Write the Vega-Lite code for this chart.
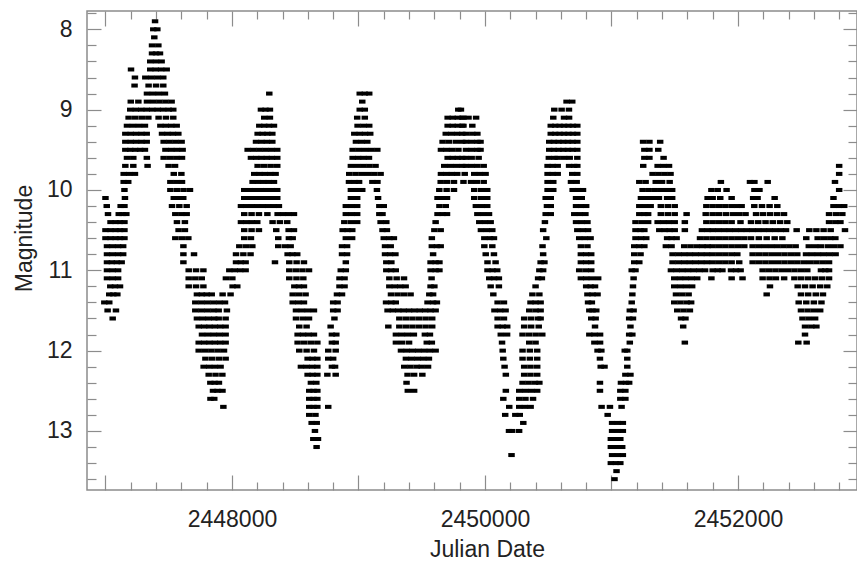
{
"$schema":"https://vega.github.io/schema/vega-lite/v6.json",
"width":770,"height":479,
"autosize":{"type":"none"},
"padding":{"left":87,"top":11,"right":0,"bottom":71},
"background":"white",
"config":{"view":{"stroke":"#8c8c8c","strokeWidth":1.5},"font":"Liberation Sans",
"axis":{"domain":false,"grid":false,"tickColor":"#8c8c8c","tickWidth":1.2,"labelFont":"Liberation Sans","labelFontSize":23,"labelColor":"#222","titleFont":"Liberation Sans","titleFontSize":23,"titleFontWeight":"normal","titleColor":"#222"}},
"data":{"values":[
{"j":2447000,"m":10.1},{"j":2447010,"m":10.2},{"j":2447120,"m":10.2},{"j":2447150,"m":10.2},
{"j":2447020,"m":10.3},{"j":2447105,"m":10.3},{"j":2447135,"m":10.3},{"j":2447165,"m":10.3},
{"j":2447040,"m":10.4},{"j":2447080,"m":10.4},{"j":2447115,"m":10.4},{"j":2447150,"m":10.4},
{"j":2447000,"m":10.5},{"j":2447040,"m":10.5},{"j":2447080,"m":10.5},{"j":2447115,"m":10.5},{"j":2447150,"m":10.5},
{"j":2447000,"m":10.6},{"j":2447040,"m":10.6},{"j":2447080,"m":10.6},{"j":2447115,"m":10.6},{"j":2447150,"m":10.6},
{"j":2447012,"m":10.7},{"j":2447055,"m":10.7},{"j":2447100,"m":10.7},{"j":2447140,"m":10.7},
{"j":2447012,"m":10.8},{"j":2447055,"m":10.8},{"j":2447100,"m":10.8},{"j":2447140,"m":10.8},
{"j":2447012,"m":10.9},{"j":2447050,"m":10.9},{"j":2447090,"m":10.9},{"j":2447128,"m":10.9},
{"j":2447012,"m":11.0},{"j":2447057,"m":11.0},{"j":2447100,"m":11.0},
{"j":2447012,"m":11.1},{"j":2447057,"m":11.1},{"j":2447100,"m":11.1},
{"j":2447038,"m":11.2},{"j":2447075,"m":11.2},{"j":2447115,"m":11.2},
{"j":2447030,"m":11.3},{"j":2447062,"m":11.3},{"j":2447094,"m":11.3},
{"j":2446991,"m":11.4},{"j":2447030,"m":11.4},{"j":2447017,"m":11.5},{"j":2447083,"m":11.5},{"j":2447057,"m":11.6},
{"j":2447154,"m":10.1},{"j":2447150,"m":10.0},{"j":2447144,"m":9.9},{"j":2447180,"m":9.9},
{"j":2447144,"m":9.8},{"j":2447188,"m":9.8},{"j":2447233,"m":9.8},
{"j":2447157,"m":9.7},{"j":2447220,"m":9.7},{"j":2447333,"m":9.7},
{"j":2447170,"m":9.6},{"j":2447220,"m":9.6},{"j":2447327,"m":9.6},
{"j":2447157,"m":9.5},{"j":2447196,"m":9.5},{"j":2447235,"m":9.5},{"j":2447274,"m":9.5},{"j":2447312,"m":9.5},
{"j":2447157,"m":9.4},{"j":2447200,"m":9.4},{"j":2447242,"m":9.4},{"j":2447285,"m":9.4},{"j":2447326,"m":9.4},
{"j":2447157,"m":9.3},{"j":2447200,"m":9.3},{"j":2447242,"m":9.3},{"j":2447285,"m":9.3},{"j":2447326,"m":9.3},
{"j":2447170,"m":9.2},{"j":2447217,"m":9.2},{"j":2447265,"m":9.2},{"j":2447312,"m":9.2},
{"j":2447183,"m":9.1},{"j":2447235,"m":9.1},{"j":2447287,"m":9.1},{"j":2447339,"m":9.1},{"j":2447420,"m":9.1},{"j":2447478,"m":9.1},{"j":2447536,"m":9.1},
{"j":2447196,"m":9.0},{"j":2447240,"m":9.0},{"j":2447283,"m":9.0},{"j":2447326,"m":9.0},{"j":2447370,"m":9.0},{"j":2447413,"m":9.0},{"j":2447456,"m":9.0},{"j":2447500,"m":9.0},{"j":2447536,"m":9.0},
{"j":2447200,"m":8.9},{"j":2447260,"m":8.9},{"j":2447328,"m":8.9},{"j":2447377,"m":8.9},{"j":2447426,"m":8.9},{"j":2447475,"m":8.9},{"j":2447523,"m":8.9},
{"j":2447328,"m":8.8},{"j":2447375,"m":8.8},{"j":2447422,"m":8.8},{"j":2447470,"m":8.8},
{"j":2447230,"m":8.7},{"j":2447341,"m":8.7},{"j":2447400,"m":8.7},{"j":2447457,"m":8.7},
{"j":2447233,"m":8.6},{"j":2447315,"m":8.6},{"j":2447362,"m":8.6},{"j":2447410,"m":8.6},{"j":2447457,"m":8.6},
{"j":2447202,"m":8.5},{"j":2447354,"m":8.5},{"j":2447397,"m":8.5},{"j":2447440,"m":8.5},{"j":2447484,"m":8.5},
{"j":2447354,"m":8.4},{"j":2447400,"m":8.4},{"j":2447444,"m":8.4},
{"j":2447368,"m":8.3},{"j":2447400,"m":8.3},{"j":2447431,"m":8.3},
{"j":2447368,"m":8.2},{"j":2447418,"m":8.2},{"j":2447386,"m":8.1},{"j":2447378,"m":8.0},{"j":2447410,"m":8.0},{"j":2447392,"m":7.9},
{"j":2447434,"m":9.2},{"j":2447477,"m":9.2},{"j":2447520,"m":9.2},{"j":2447563,"m":9.2},
{"j":2447447,"m":9.3},{"j":2447490,"m":9.3},{"j":2447533,"m":9.3},{"j":2447576,"m":9.3},
{"j":2447460,"m":9.4},{"j":2447507,"m":9.4},{"j":2447555,"m":9.4},{"j":2447602,"m":9.4},
{"j":2447474,"m":9.5},{"j":2447520,"m":9.5},{"j":2447565,"m":9.5},{"j":2447610,"m":9.5},
{"j":2447460,"m":9.6},{"j":2447510,"m":9.6},{"j":2447560,"m":9.6},{"j":2447605,"m":9.6},
{"j":2447499,"m":9.7},{"j":2447550,"m":9.7},{"j":2447540,"m":9.8},{"j":2447600,"m":9.8},
{"j":2447513,"m":9.9},{"j":2447560,"m":9.9},{"j":2447605,"m":9.9},
{"j":2447513,"m":10.0},{"j":2447565,"m":10.0},{"j":2447617,"m":10.0},{"j":2447668,"m":10.0},
{"j":2447540,"m":10.1},{"j":2447585,"m":10.1},{"j":2447615,"m":10.1},
{"j":2447526,"m":10.2},{"j":2447584,"m":10.2},{"j":2447642,"m":10.2},
{"j":2447552,"m":10.3},{"j":2447600,"m":10.3},{"j":2447642,"m":10.3},
{"j":2447565,"m":10.4},{"j":2447628,"m":10.4},{"j":2447578,"m":10.5},{"j":2447628,"m":10.5},
{"j":2447552,"m":10.6},{"j":2447603,"m":10.6},{"j":2447655,"m":10.6},
{"j":2447616,"m":10.7},{"j":2447616,"m":10.8},{"j":2447700,"m":10.8},{"j":2447616,"m":10.9},
{"j":2447658,"m":11.0},{"j":2447716,"m":11.0},{"j":2447774,"m":11.0},
{"j":2447658,"m":11.1},{"j":2447710,"m":11.1},{"j":2447761,"m":11.1},
{"j":2447658,"m":11.2},{"j":2447716,"m":11.2},{"j":2447774,"m":11.2},
{"j":2447723,"m":11.3},{"j":2447762,"m":11.3},{"j":2447800,"m":11.3},{"j":2447840,"m":11.3},
{"j":2447710,"m":11.4},{"j":2447758,"m":11.4},{"j":2447805,"m":11.4},{"j":2447853,"m":11.4},{"j":2447900,"m":11.4},{"j":2447945,"m":11.4},
{"j":2447710,"m":11.5},{"j":2447758,"m":11.5},{"j":2447805,"m":11.5},{"j":2447853,"m":11.5},{"j":2447895,"m":11.5},{"j":2447960,"m":11.5},
{"j":2447723,"m":11.6},{"j":2447770,"m":11.6},{"j":2447815,"m":11.6},{"j":2447860,"m":11.6},{"j":2447895,"m":11.6},{"j":2447950,"m":11.6},
{"j":2447737,"m":11.7},{"j":2447780,"m":11.7},{"j":2447822,"m":11.7},{"j":2447865,"m":11.7},{"j":2447907,"m":11.7},{"j":2447950,"m":11.7},
{"j":2447763,"m":11.8},{"j":2447810,"m":11.8},{"j":2447857,"m":11.8},{"j":2447903,"m":11.8},{"j":2447950,"m":11.8},
{"j":2447737,"m":11.9},{"j":2447780,"m":11.9},{"j":2447822,"m":11.9},{"j":2447865,"m":11.9},{"j":2447907,"m":11.9},{"j":2447950,"m":11.9},
{"j":2447737,"m":12.0},{"j":2447787,"m":12.0},{"j":2447837,"m":12.0},{"j":2447887,"m":12.0},{"j":2447937,"m":12.0},
{"j":2447790,"m":12.1},{"j":2447843,"m":12.1},{"j":2447897,"m":12.1},{"j":2447950,"m":12.1},
{"j":2447776,"m":12.2},{"j":2447820,"m":12.2},{"j":2447865,"m":12.2},{"j":2447910,"m":12.2},
{"j":2447816,"m":12.3},{"j":2447870,"m":12.3},{"j":2447924,"m":12.3},
{"j":2447829,"m":12.4},{"j":2447863,"m":12.4},{"j":2447897,"m":12.4},
{"j":2447850,"m":12.5},{"j":2447885,"m":12.5},{"j":2447925,"m":12.5},
{"j":2447830,"m":12.6},{"j":2447860,"m":12.6},{"j":2447932,"m":12.7},
{"j":2447926,"m":11.3},{"j":2447989,"m":11.3},{"j":2448005,"m":11.2},{"j":2448042,"m":11.2},
{"j":2447952,"m":11.1},{"j":2448003,"m":11.1},
{"j":2447979,"m":11.0},{"j":2448022,"m":11.0},{"j":2448065,"m":11.0},{"j":2448108,"m":11.0},
{"j":2448032,"m":10.9},{"j":2448070,"m":10.9},{"j":2448108,"m":10.9},
{"j":2448032,"m":10.8},{"j":2448090,"m":10.8},{"j":2448147,"m":10.8},
{"j":2448058,"m":10.7},{"j":2448110,"m":10.7},{"j":2448161,"m":10.7},
{"j":2448097,"m":10.6},{"j":2448150,"m":10.6},
{"j":2448097,"m":10.5},{"j":2448155,"m":10.5},{"j":2448213,"m":10.5},
{"j":2448071,"m":10.4},{"j":2448114,"m":10.4},{"j":2448157,"m":10.4},{"j":2448200,"m":10.4},
{"j":2448097,"m":10.3},{"j":2448155,"m":10.3},{"j":2448213,"m":10.3},{"j":2448280,"m":10.3},
{"j":2448071,"m":10.2},{"j":2448114,"m":10.2},{"j":2448157,"m":10.2},{"j":2448200,"m":10.2},{"j":2448243,"m":10.2},{"j":2448286,"m":10.2},{"j":2448329,"m":10.2},{"j":2448371,"m":10.2},
{"j":2448097,"m":10.1},{"j":2448140,"m":10.1},{"j":2448184,"m":10.1},{"j":2448228,"m":10.1},{"j":2448271,"m":10.1},{"j":2448315,"m":10.1},{"j":2448358,"m":10.1},
{"j":2448097,"m":10.0},{"j":2448140,"m":10.0},{"j":2448184,"m":10.0},{"j":2448228,"m":10.0},{"j":2448271,"m":10.0},{"j":2448315,"m":10.0},{"j":2448358,"m":10.0},
{"j":2448163,"m":9.9},{"j":2448205,"m":9.9},{"j":2448248,"m":9.9},{"j":2448290,"m":9.9},{"j":2448332,"m":9.9},
{"j":2448176,"m":9.8},{"j":2448218,"m":9.8},{"j":2448260,"m":9.8},{"j":2448303,"m":9.8},{"j":2448345,"m":9.8},
{"j":2448203,"m":9.7},{"j":2448255,"m":9.7},{"j":2448306,"m":9.7},{"j":2448358,"m":9.7},
{"j":2448150,"m":9.6},{"j":2448192,"m":9.6},{"j":2448233,"m":9.6},{"j":2448275,"m":9.6},{"j":2448316,"m":9.6},{"j":2448358,"m":9.6},
{"j":2448124,"m":9.5},{"j":2448170,"m":9.5},{"j":2448217,"m":9.5},{"j":2448264,"m":9.5},{"j":2448311,"m":9.5},{"j":2448358,"m":9.5},
{"j":2448190,"m":9.4},{"j":2448233,"m":9.4},{"j":2448276,"m":9.4},{"j":2448319,"m":9.4},
{"j":2448203,"m":9.3},{"j":2448242,"m":9.3},{"j":2448280,"m":9.3},{"j":2448319,"m":9.3},
{"j":2448216,"m":9.2},{"j":2448255,"m":9.2},{"j":2448293,"m":9.2},{"j":2448332,"m":9.2},
{"j":2448255,"m":9.1},{"j":2448300,"m":9.1},{"j":2448229,"m":9.0},{"j":2448265,"m":9.0},{"j":2448300,"m":9.0},{"j":2448295,"m":8.8},
{"j":2448361,"m":10.3},{"j":2448404,"m":10.3},{"j":2448447,"m":10.3},{"j":2448490,"m":10.3},
{"j":2448321,"m":10.4},{"j":2448379,"m":10.4},{"j":2448437,"m":10.4},
{"j":2448350,"m":10.5},{"j":2448448,"m":10.5},{"j":2448490,"m":10.5},
{"j":2448366,"m":10.6},{"j":2448450,"m":10.6},{"j":2448480,"m":10.6},
{"j":2448366,"m":10.7},{"j":2448420,"m":10.7},{"j":2448464,"m":10.7},
{"j":2448440,"m":10.8},{"j":2448478,"m":10.8},{"j":2448516,"m":10.8},
{"j":2448340,"m":10.9},{"j":2448453,"m":10.9},{"j":2448511,"m":10.9},{"j":2448569,"m":10.9},
{"j":2448453,"m":11.0},{"j":2448505,"m":11.0},{"j":2448557,"m":11.0},{"j":2448609,"m":11.0},
{"j":2448453,"m":11.1},{"j":2448510,"m":11.1},{"j":2448564,"m":11.1},
{"j":2448493,"m":11.2},{"j":2448530,"m":11.2},{"j":2448569,"m":11.2},
{"j":2448480,"m":11.3},{"j":2448530,"m":11.3},{"j":2448582,"m":11.3},
{"j":2448480,"m":11.4},{"j":2448525,"m":11.4},{"j":2448569,"m":11.4},
{"j":2448506,"m":11.5},{"j":2448553,"m":11.5},{"j":2448600,"m":11.5},{"j":2448648,"m":11.5},
{"j":2448506,"m":11.6},{"j":2448560,"m":11.6},{"j":2448609,"m":11.6},
{"j":2448532,"m":11.7},{"j":2448590,"m":11.7},{"j":2448780,"m":11.7},
{"j":2448519,"m":11.8},{"j":2448562,"m":11.8},{"j":2448605,"m":11.8},{"j":2448648,"m":11.8},
{"j":2448519,"m":11.9},{"j":2448571,"m":11.9},{"j":2448623,"m":11.9},{"j":2448675,"m":11.9},
{"j":2448532,"m":12.0},{"j":2448590,"m":12.0},{"j":2448648,"m":12.0},{"j":2448761,"m":12.0},
{"j":2448598,"m":12.1},{"j":2448637,"m":12.1},{"j":2448675,"m":12.1},{"j":2448761,"m":12.1},
{"j":2448545,"m":12.2},{"j":2448590,"m":12.2},{"j":2448635,"m":12.2},{"j":2448675,"m":12.2},
{"j":2448598,"m":12.3},{"j":2448637,"m":12.3},{"j":2448675,"m":12.3},{"j":2448754,"m":12.3},
{"j":2448624,"m":12.4},{"j":2448667,"m":12.4},
{"j":2448611,"m":12.5},{"j":2448645,"m":12.5},{"j":2448675,"m":12.5},
{"j":2448611,"m":12.6},{"j":2448645,"m":12.6},{"j":2448675,"m":12.6},
{"j":2448611,"m":12.7},{"j":2448645,"m":12.7},{"j":2448675,"m":12.7},{"j":2448761,"m":12.7},
{"j":2448611,"m":12.8},{"j":2448660,"m":12.8},{"j":2448630,"m":12.9},{"j":2448670,"m":12.9},
{"j":2448656,"m":13.0},{"j":2448643,"m":13.1},{"j":2448680,"m":13.1},{"j":2448669,"m":13.2},
{"j":2448820,"m":12.3},{"j":2448790,"m":12.2},{"j":2448815,"m":12.2},{"j":2448800,"m":12.1},{"j":2448820,"m":12.0},
{"j":2448790,"m":11.9},{"j":2448820,"m":11.9},{"j":2448790,"m":11.8},{"j":2448825,"m":11.8},{"j":2448810,"m":11.6},
{"j":2448800,"m":11.5},{"j":2448835,"m":11.5},{"j":2448800,"m":11.4},{"j":2448835,"m":11.4},
{"j":2448830,"m":11.3},{"j":2448870,"m":11.3},{"j":2448850,"m":11.2},{"j":2448890,"m":11.2},
{"j":2448850,"m":11.1},{"j":2448890,"m":11.1},{"j":2448860,"m":11.0},{"j":2448900,"m":11.0},
{"j":2448900,"m":10.9},{"j":2448870,"m":10.8},{"j":2448910,"m":10.8},{"j":2448870,"m":10.7},{"j":2448910,"m":10.7},
{"j":2448900,"m":10.6},{"j":2448950,"m":10.6},
{"j":2448875,"m":10.5},{"j":2448913,"m":10.5},{"j":2448951,"m":10.5},
{"j":2448888,"m":10.4},{"j":2448940,"m":10.4},{"j":2448990,"m":10.4},
{"j":2448900,"m":10.3},{"j":2448945,"m":10.3},{"j":2448990,"m":10.3},
{"j":2448900,"m":10.2},{"j":2448945,"m":10.2},{"j":2448990,"m":10.2},
{"j":2448940,"m":10.1},{"j":2448990,"m":10.1},
{"j":2448940,"m":10.0},{"j":2448985,"m":10.0},{"j":2449030,"m":10.0},
{"j":2448925,"m":9.9},{"j":2448970,"m":9.9},{"j":2449005,"m":9.9},
{"j":2448927,"m":9.8},{"j":2448977,"m":9.8},{"j":2449026,"m":9.8},{"j":2449076,"m":9.8},{"j":2449125,"m":9.8},{"j":2449175,"m":9.8},
{"j":2448940,"m":9.7},{"j":2448989,"m":9.7},{"j":2449038,"m":9.7},{"j":2449086,"m":9.7},{"j":2449135,"m":9.7},
{"j":2448954,"m":9.6},{"j":2448997,"m":9.6},{"j":2449040,"m":9.6},{"j":2449083,"m":9.6},
{"j":2448954,"m":9.5},{"j":2449003,"m":9.5},{"j":2449052,"m":9.5},{"j":2449100,"m":9.5},{"j":2449149,"m":9.5},
{"j":2448980,"m":9.4},{"j":2449025,"m":9.4},{"j":2449070,"m":9.4},
{"j":2448967,"m":9.3},{"j":2449010,"m":9.3},{"j":2449052,"m":9.3},{"j":2449093,"m":9.3},
{"j":2448993,"m":9.2},{"j":2449040,"m":9.2},{"j":2449085,"m":9.2},
{"j":2448990,"m":9.1},{"j":2449050,"m":9.1},{"j":2449010,"m":9.0},{"j":2449050,"m":9.0},{"j":2449030,"m":8.9},
{"j":2449010,"m":8.8},{"j":2449050,"m":8.8},{"j":2449085,"m":8.8},
{"j":2449110,"m":9.9},{"j":2449150,"m":9.9},{"j":2449146,"m":10.0},{"j":2449155,"m":10.1},
{"j":2449165,"m":10.2},{"j":2449200,"m":10.2},{"j":2449165,"m":10.3},{"j":2449190,"m":10.3},
{"j":2449175,"m":10.4},{"j":2449220,"m":10.4},{"j":2449190,"m":10.5},{"j":2449225,"m":10.5},
{"j":2449200,"m":10.6},{"j":2449245,"m":10.6},{"j":2449280,"m":10.6},
{"j":2449210,"m":10.7},{"j":2449255,"m":10.7},
{"j":2449210,"m":10.8},{"j":2449250,"m":10.8},{"j":2449292,"m":10.8},
{"j":2449220,"m":10.9},{"j":2449260,"m":10.9},
{"j":2449220,"m":11.0},{"j":2449258,"m":11.0},{"j":2449295,"m":11.0},
{"j":2449244,"m":11.1},{"j":2449302,"m":11.1},{"j":2449360,"m":11.1},
{"j":2449244,"m":11.2},{"j":2449287,"m":11.2},{"j":2449330,"m":11.2},{"j":2449373,"m":11.2},
{"j":2449257,"m":11.3},{"j":2449309,"m":11.3},{"j":2449360,"m":11.3},{"j":2449412,"m":11.3},
{"j":2449218,"m":11.4},{"j":2449260,"m":11.4},{"j":2449295,"m":11.4},
{"j":2449230,"m":11.5},{"j":2449272,"m":11.5},{"j":2449315,"m":11.5},{"j":2449357,"m":11.5},{"j":2449400,"m":11.5},{"j":2449442,"m":11.5},{"j":2449485,"m":11.5},{"j":2449527,"m":11.5},{"j":2449570,"m":11.5},{"j":2449610,"m":11.5},
{"j":2449323,"m":11.6},{"j":2449375,"m":11.6},{"j":2449427,"m":11.6},{"j":2449479,"m":11.6},{"j":2449531,"m":11.6},{"j":2449583,"m":11.6},
{"j":2449236,"m":11.7},{"j":2449323,"m":11.7},{"j":2449375,"m":11.7},{"j":2449427,"m":11.7},{"j":2449479,"m":11.7},{"j":2449531,"m":11.7},{"j":2449583,"m":11.7},
{"j":2449296,"m":11.8},{"j":2449343,"m":11.8},{"j":2449390,"m":11.8},{"j":2449438,"m":11.8},{"j":2449525,"m":11.8},{"j":2449565,"m":11.8},
{"j":2449296,"m":11.9},{"j":2449345,"m":11.9},{"j":2449400,"m":11.9},{"j":2449540,"m":11.9},{"j":2449580,"m":11.9},
{"j":2449336,"m":12.0},{"j":2449382,"m":12.0},{"j":2449428,"m":12.0},{"j":2449473,"m":12.0},{"j":2449519,"m":12.0},{"j":2449565,"m":12.0},{"j":2449610,"m":12.0},
{"j":2449375,"m":12.1},{"j":2449420,"m":12.1},{"j":2449466,"m":12.1},{"j":2449512,"m":12.1},{"j":2449557,"m":12.1},
{"j":2449362,"m":12.2},{"j":2449410,"m":12.2},{"j":2449460,"m":12.2},{"j":2449500,"m":12.2},{"j":2449550,"m":12.2},
{"j":2449388,"m":12.3},{"j":2449440,"m":12.3},{"j":2449505,"m":12.3},{"j":2449380,"m":12.4},{"j":2449390,"m":12.5},{"j":2449440,"m":12.5},
{"j":2449546,"m":11.4},{"j":2449590,"m":11.4},{"j":2449620,"m":11.4},{"j":2449560,"m":11.3},{"j":2449590,"m":11.3},
{"j":2449570,"m":11.2},{"j":2449600,"m":11.2},{"j":2449578,"m":11.1},
{"j":2449570,"m":11.0},{"j":2449610,"m":11.0},{"j":2449640,"m":11.0},
{"j":2449570,"m":10.9},{"j":2449610,"m":10.9},{"j":2449640,"m":10.9},{"j":2449590,"m":10.8},
{"j":2449580,"m":10.7},{"j":2449620,"m":10.7},{"j":2449650,"m":10.7},{"j":2449580,"m":10.6},
{"j":2449600,"m":10.5},{"j":2449650,"m":10.5},{"j":2449610,"m":10.4},
{"j":2449625,"m":10.3},{"j":2449665,"m":10.3},{"j":2449700,"m":10.3},{"j":2449640,"m":10.2},{"j":2449690,"m":10.2},
{"j":2449625,"m":10.1},{"j":2449665,"m":10.1},{"j":2449700,"m":10.1},
{"j":2449639,"m":10.0},{"j":2449697,"m":10.0},{"j":2449755,"m":10.0},
{"j":2449650,"m":9.9},{"j":2449700,"m":9.9},{"j":2449755,"m":9.9},
{"j":2449652,"m":9.8},{"j":2449695,"m":9.8},{"j":2449738,"m":9.8},{"j":2449781,"m":9.8},
{"j":2449678,"m":9.7},{"j":2449725,"m":9.7},{"j":2449773,"m":9.7},{"j":2449820,"m":9.7},
{"j":2449705,"m":9.6},{"j":2449745,"m":9.6},{"j":2449785,"m":9.6},{"j":2449820,"m":9.6},
{"j":2449652,"m":9.5},{"j":2449695,"m":9.5},{"j":2449740,"m":9.5},{"j":2449790,"m":9.5},
{"j":2449665,"m":9.4},{"j":2449715,"m":9.4},{"j":2449770,"m":9.4},{"j":2449820,"m":9.4},
{"j":2449690,"m":9.3},{"j":2449735,"m":9.3},{"j":2449780,"m":9.3},{"j":2449820,"m":9.3},
{"j":2449705,"m":9.2},{"j":2449745,"m":9.2},{"j":2449785,"m":9.2},{"j":2449820,"m":9.2},
{"j":2449705,"m":9.1},{"j":2449745,"m":9.1},{"j":2449785,"m":9.1},{"j":2449820,"m":9.1},
{"j":2449789,"m":9.0},{"j":2449810,"m":9.0},
{"j":2449830,"m":9.1},{"j":2449870,"m":9.1},{"j":2449930,"m":9.1},{"j":2449830,"m":9.2},{"j":2449900,"m":9.2},
{"j":2449850,"m":9.3},{"j":2449900,"m":9.3},{"j":2449940,"m":9.3},
{"j":2449850,"m":9.4},{"j":2449895,"m":9.4},{"j":2449940,"m":9.4},{"j":2449965,"m":9.4},
{"j":2449850,"m":9.5},{"j":2449895,"m":9.5},{"j":2449940,"m":9.5},{"j":2449965,"m":9.5},
{"j":2449850,"m":9.6},{"j":2449895,"m":9.6},{"j":2449950,"m":9.6},
{"j":2449850,"m":9.7},{"j":2449895,"m":9.7},{"j":2449940,"m":9.7},{"j":2449990,"m":9.7},
{"j":2449840,"m":9.8},{"j":2449915,"m":9.8},{"j":2449960,"m":9.8},{"j":2450005,"m":9.8},
{"j":2449830,"m":9.9},{"j":2449890,"m":9.9},{"j":2449935,"m":9.9},{"j":2449990,"m":9.9},
{"j":2449915,"m":10.0},{"j":2449970,"m":10.0},{"j":2450018,"m":10.0},
{"j":2449915,"m":10.1},{"j":2449970,"m":10.1},{"j":2450018,"m":10.1},
{"j":2449928,"m":10.2},{"j":2449975,"m":10.2},{"j":2450018,"m":10.2},
{"j":2449940,"m":10.3},{"j":2449985,"m":10.3},{"j":2450032,"m":10.3},
{"j":2449955,"m":10.4},{"j":2450000,"m":10.4},{"j":2450045,"m":10.4},
{"j":2449968,"m":10.5},{"j":2450015,"m":10.5},{"j":2450058,"m":10.5},
{"j":2449995,"m":10.6},{"j":2450040,"m":10.6},{"j":2450071,"m":10.6},
{"j":2449995,"m":10.7},{"j":2450058,"m":10.7},{"j":2450006,"m":10.8},{"j":2450071,"m":10.8},
{"j":2450020,"m":10.9},{"j":2450084,"m":10.9},
{"j":2450020,"m":11.0},{"j":2450060,"m":11.0},{"j":2450097,"m":11.0},
{"j":2450034,"m":11.1},{"j":2450072,"m":11.1},{"j":2450110,"m":11.1},
{"j":2450045,"m":11.2},{"j":2450110,"m":11.2},{"j":2450066,"m":11.3},
{"j":2450100,"m":11.4},{"j":2450150,"m":11.4},
{"j":2450075,"m":11.5},{"j":2450120,"m":11.5},{"j":2450163,"m":11.5},
{"j":2450100,"m":11.6},{"j":2450150,"m":11.6},
{"j":2450100,"m":11.7},{"j":2450140,"m":11.7},{"j":2450176,"m":11.7},
{"j":2450125,"m":11.8},{"j":2450175,"m":11.8},{"j":2450135,"m":11.9},{"j":2450140,"m":12.0},{"j":2450145,"m":12.1},
{"j":2450155,"m":12.2},{"j":2450165,"m":12.3},{"j":2450165,"m":12.5},{"j":2450145,"m":12.6},{"j":2450192,"m":12.7},
{"j":2450160,"m":12.8},{"j":2450190,"m":13.0},{"j":2450210,"m":13.3},
{"j":2450215,"m":13.0},{"j":2450270,"m":13.0},{"j":2450303,"m":12.9},{"j":2450240,"m":12.8},{"j":2450275,"m":12.8},
{"j":2450271,"m":12.7},{"j":2450316,"m":12.7},{"j":2450361,"m":12.7},
{"j":2450271,"m":12.6},{"j":2450320,"m":12.6},{"j":2450380,"m":12.6},
{"j":2450271,"m":12.5},{"j":2450318,"m":12.5},{"j":2450366,"m":12.5},{"j":2450413,"m":12.5},
{"j":2450297,"m":12.4},{"j":2450345,"m":12.4},{"j":2450395,"m":12.4},{"j":2450430,"m":12.4},
{"j":2450310,"m":12.3},{"j":2450360,"m":12.3},{"j":2450413,"m":12.3},
{"j":2450310,"m":12.2},{"j":2450360,"m":12.2},{"j":2450413,"m":12.2},
{"j":2450297,"m":12.1},{"j":2450355,"m":12.1},{"j":2450413,"m":12.1},
{"j":2450297,"m":12.0},{"j":2450355,"m":12.0},{"j":2450413,"m":12.0},
{"j":2450350,"m":11.9},{"j":2450400,"m":11.9},
{"j":2450297,"m":11.8},{"j":2450349,"m":11.8},{"j":2450401,"m":11.8},{"j":2450453,"m":11.8},
{"j":2450310,"m":11.7},{"j":2450365,"m":11.7},{"j":2450425,"m":11.7},
{"j":2450310,"m":11.6},{"j":2450365,"m":11.6},{"j":2450420,"m":11.6},{"j":2450440,"m":11.6},
{"j":2450350,"m":11.5},{"j":2450400,"m":11.5},{"j":2450440,"m":11.5},
{"j":2450360,"m":11.4},{"j":2450400,"m":11.4},{"j":2450440,"m":11.4},
{"j":2450375,"m":11.3},{"j":2450430,"m":11.3},{"j":2450400,"m":11.2},
{"j":2450420,"m":11.1},{"j":2450450,"m":11.1},{"j":2450430,"m":11.0},{"j":2450460,"m":11.0},
{"j":2450440,"m":10.9},{"j":2450470,"m":10.9},{"j":2450460,"m":10.8},{"j":2450455,"m":10.7},
{"j":2450485,"m":10.6},{"j":2450460,"m":10.5},{"j":2450474,"m":10.4},
{"j":2450480,"m":10.3},{"j":2450520,"m":10.3},{"j":2450490,"m":10.2},{"j":2450520,"m":10.2},
{"j":2450480,"m":10.1},{"j":2450520,"m":10.1},{"j":2450495,"m":10.0},{"j":2450540,"m":10.0},
{"j":2450495,"m":9.9},{"j":2450540,"m":9.9},
{"j":2450495,"m":9.8},{"j":2450535,"m":9.8},{"j":2450575,"m":9.8},{"j":2450690,"m":9.8},{"j":2450730,"m":9.8},
{"j":2450495,"m":9.7},{"j":2450535,"m":9.7},{"j":2450575,"m":9.7},{"j":2450665,"m":9.7},{"j":2450705,"m":9.7},{"j":2450730,"m":9.7},
{"j":2450505,"m":9.6},{"j":2450550,"m":9.6},{"j":2450575,"m":9.6},{"j":2450625,"m":9.6},{"j":2450670,"m":9.6},{"j":2450730,"m":9.6},
{"j":2450508,"m":9.5},{"j":2450545,"m":9.5},{"j":2450582,"m":9.5},{"j":2450619,"m":9.5},{"j":2450656,"m":9.5},{"j":2450693,"m":9.5},{"j":2450730,"m":9.5},
{"j":2450508,"m":9.4},{"j":2450545,"m":9.4},{"j":2450582,"m":9.4},{"j":2450619,"m":9.4},{"j":2450656,"m":9.4},{"j":2450693,"m":9.4},{"j":2450730,"m":9.4},
{"j":2450520,"m":9.3},{"j":2450555,"m":9.3},{"j":2450590,"m":9.3},{"j":2450625,"m":9.3},{"j":2450660,"m":9.3},{"j":2450695,"m":9.3},{"j":2450730,"m":9.3},
{"j":2450520,"m":9.2},{"j":2450555,"m":9.2},{"j":2450590,"m":9.2},{"j":2450625,"m":9.2},{"j":2450660,"m":9.2},{"j":2450695,"m":9.2},{"j":2450730,"m":9.2},
{"j":2450540,"m":9.1},{"j":2450625,"m":9.1},{"j":2450665,"m":9.1},
{"j":2450548,"m":9.0},{"j":2450606,"m":9.0},{"j":2450664,"m":9.0},{"j":2450645,"m":8.9},{"j":2450690,"m":8.9},
{"j":2450680,"m":9.9},{"j":2450725,"m":9.9},
{"j":2450693,"m":10.0},{"j":2450735,"m":10.0},{"j":2450775,"m":10.0},
{"j":2450720,"m":10.1},{"j":2450765,"m":10.1},
{"j":2450720,"m":10.2},{"j":2450760,"m":10.2},{"j":2450800,"m":10.2},
{"j":2450706,"m":10.3},{"j":2450750,"m":10.3},{"j":2450794,"m":10.3},
{"j":2450720,"m":10.4},{"j":2450765,"m":10.4},{"j":2450810,"m":10.4},
{"j":2450730,"m":10.5},{"j":2450775,"m":10.5},{"j":2450815,"m":10.5},
{"j":2450745,"m":10.6},{"j":2450790,"m":10.6},{"j":2450835,"m":10.6},
{"j":2450758,"m":10.7},{"j":2450810,"m":10.7},
{"j":2450758,"m":10.8},{"j":2450800,"m":10.8},{"j":2450840,"m":10.8},
{"j":2450758,"m":10.9},{"j":2450800,"m":10.9},{"j":2450840,"m":10.9},
{"j":2450745,"m":11.0},{"j":2450795,"m":11.0},{"j":2450840,"m":11.0},
{"j":2450758,"m":11.1},{"j":2450800,"m":11.1},{"j":2450845,"m":11.1},{"j":2450895,"m":11.1},
{"j":2450800,"m":11.2},{"j":2450835,"m":11.2},{"j":2450870,"m":11.2},
{"j":2450810,"m":11.3},{"j":2450850,"m":11.3},{"j":2450890,"m":11.3},
{"j":2450815,"m":11.4},{"j":2450845,"m":11.4},
{"j":2450825,"m":11.5},{"j":2450850,"m":11.5},{"j":2450880,"m":11.5},
{"j":2450840,"m":11.6},{"j":2450875,"m":11.6},{"j":2450870,"m":11.7},
{"j":2450825,"m":11.8},{"j":2450865,"m":11.8},{"j":2450910,"m":11.8},
{"j":2450865,"m":11.9},{"j":2450910,"m":11.9},{"j":2450890,"m":12.0},{"j":2450920,"m":12.0},
{"j":2450909,"m":12.1},{"j":2450915,"m":12.2},{"j":2450945,"m":12.2},{"j":2450909,"m":12.4},{"j":2450909,"m":12.5},
{"j":2450922,"m":12.7},{"j":2450988,"m":12.7},{"j":2450970,"m":12.8},
{"j":2451005,"m":12.9},{"j":2451050,"m":12.9},{"j":2451090,"m":12.9},
{"j":2451005,"m":13.0},{"j":2451050,"m":13.0},{"j":2451090,"m":13.0},
{"j":2450995,"m":13.1},{"j":2451035,"m":13.1},{"j":2451070,"m":13.1},
{"j":2450995,"m":13.2},{"j":2451040,"m":13.2},{"j":2451085,"m":13.2},
{"j":2451005,"m":13.3},{"j":2451050,"m":13.3},{"j":2451090,"m":13.3},
{"j":2450995,"m":13.4},{"j":2451035,"m":13.4},{"j":2451070,"m":13.4},
{"j":2451040,"m":13.5},{"j":2451024,"m":13.6},
{"j":2451080,"m":12.7},{"j":2451070,"m":12.6},{"j":2451110,"m":12.6},{"j":2451070,"m":12.5},{"j":2451110,"m":12.5},
{"j":2451075,"m":12.4},{"j":2451115,"m":12.4},{"j":2451140,"m":12.4},{"j":2451110,"m":12.3},{"j":2451150,"m":12.3},
{"j":2451125,"m":12.2},{"j":2451125,"m":12.1},{"j":2451105,"m":12.0},{"j":2451125,"m":12.0},{"j":2451145,"m":11.9},
{"j":2451140,"m":11.8},{"j":2451165,"m":11.8},{"j":2451150,"m":11.7},{"j":2451140,"m":11.6},{"j":2451170,"m":11.6},
{"j":2451145,"m":11.5},{"j":2451175,"m":11.5},{"j":2451160,"m":11.4},{"j":2451165,"m":11.3},{"j":2451170,"m":11.2},{"j":2451175,"m":11.1},
{"j":2451160,"m":11.0},{"j":2451190,"m":11.0},{"j":2451180,"m":10.9},{"j":2451220,"m":10.9},
{"j":2451180,"m":10.8},{"j":2451230,"m":10.8},
{"j":2451180,"m":10.7},{"j":2451220,"m":10.7},{"j":2451260,"m":10.7},
{"j":2451190,"m":10.6},{"j":2451235,"m":10.6},{"j":2451275,"m":10.6},
{"j":2451190,"m":10.5},{"j":2451230,"m":10.5},{"j":2451260,"m":10.5},
{"j":2451190,"m":10.4},{"j":2451240,"m":10.4},{"j":2451290,"m":10.4},
{"j":2451220,"m":10.3},{"j":2451260,"m":10.3},{"j":2451290,"m":10.3},
{"j":2451220,"m":10.2},{"j":2451265,"m":10.2},{"j":2451310,"m":10.2},
{"j":2451233,"m":10.1},{"j":2451280,"m":10.1},{"j":2451328,"m":10.1},{"j":2451375,"m":10.1},{"j":2451440,"m":10.1},{"j":2451480,"m":10.1},
{"j":2451246,"m":10.0},{"j":2451293,"m":10.0},{"j":2451340,"m":10.0},{"j":2451386,"m":10.0},{"j":2451433,"m":10.0},{"j":2451480,"m":10.0},
{"j":2451220,"m":9.9},{"j":2451270,"m":9.9},{"j":2451350,"m":9.9},{"j":2451400,"m":9.9},{"j":2451460,"m":9.9},
{"j":2451325,"m":9.8},{"j":2451372,"m":9.8},{"j":2451420,"m":9.8},{"j":2451467,"m":9.8},
{"j":2451251,"m":9.7},{"j":2451365,"m":9.7},{"j":2451410,"m":9.7},{"j":2451455,"m":9.7},
{"j":2451260,"m":9.6},{"j":2451300,"m":9.6},{"j":2451412,"m":9.6},
{"j":2451260,"m":9.5},{"j":2451300,"m":9.5},{"j":2451370,"m":9.5},
{"j":2451250,"m":9.4},{"j":2451300,"m":9.4},{"j":2451385,"m":9.4},
{"j":2451390,"m":10.2},{"j":2451445,"m":10.2},{"j":2451500,"m":10.2},
{"j":2451390,"m":10.3},{"j":2451445,"m":10.3},{"j":2451500,"m":10.3},{"j":2451594,"m":10.3},
{"j":2451365,"m":10.4},{"j":2451410,"m":10.4},{"j":2451455,"m":10.4},{"j":2451500,"m":10.4},
{"j":2451378,"m":10.5},{"j":2451420,"m":10.5},{"j":2451460,"m":10.5},{"j":2451500,"m":10.5},{"j":2451580,"m":10.5},
{"j":2451440,"m":10.6},{"j":2451475,"m":10.6},{"j":2451515,"m":10.6},
{"j":2451430,"m":10.7},{"j":2451475,"m":10.7},
{"j":2451496,"m":11.1},{"j":2451542,"m":11.1},{"j":2451587,"m":11.1},{"j":2451633,"m":11.1},{"j":2451678,"m":11.1},
{"j":2451496,"m":11.2},{"j":2451543,"m":11.2},{"j":2451590,"m":11.2},{"j":2451638,"m":11.2},
{"j":2451510,"m":11.3},{"j":2451560,"m":11.3},{"j":2451610,"m":11.3},
{"j":2451496,"m":11.4},{"j":2451545,"m":11.4},{"j":2451595,"m":11.4},{"j":2451630,"m":11.4},
{"j":2451520,"m":11.5},{"j":2451570,"m":11.5},{"j":2451620,"m":11.5},
{"j":2451550,"m":11.6},{"j":2451585,"m":11.6},{"j":2451567,"m":11.7},{"j":2451580,"m":11.9},
{"j":2451790,"m":10.0},{"j":2451760,"m":10.1},{"j":2451750,"m":10.2},{"j":2451745,"m":10.3},
{"j":2451580,"m":10.4},{"j":2451750,"m":10.4},{"j":2451715,"m":10.5},{"j":2451760,"m":10.5},
{"j":2451700,"m":10.6},{"j":2451750,"m":10.6},
{"j":2451575,"m":10.7},{"j":2451625,"m":10.7},{"j":2451675,"m":10.7},{"j":2451720,"m":10.7},{"j":2451760,"m":10.7},
{"j":2451483,"m":10.8},{"j":2451530,"m":10.8},{"j":2451575,"m":10.8},{"j":2451620,"m":10.8},{"j":2451665,"m":10.8},{"j":2451710,"m":10.8},{"j":2451755,"m":10.8},
{"j":2451483,"m":10.9},{"j":2451530,"m":10.9},{"j":2451575,"m":10.9},{"j":2451620,"m":10.9},{"j":2451665,"m":10.9},{"j":2451710,"m":10.9},{"j":2451755,"m":10.9},
{"j":2451470,"m":11.0},{"j":2451515,"m":11.0},{"j":2451560,"m":11.0},{"j":2451605,"m":11.0},{"j":2451650,"m":11.0},{"j":2451695,"m":11.0},{"j":2451740,"m":11.0},
{"j":2452800,"m":9.7},{"j":2452800,"m":9.8},
{"j":2451865,"m":9.9},{"j":2452095,"m":9.9},{"j":2452130,"m":9.9},{"j":2452235,"m":9.9},{"j":2452767,"m":9.9},
{"j":2451840,"m":10.0},{"j":2451910,"m":10.0},{"j":2452130,"m":10.0},{"j":2452170,"m":10.0},{"j":2452800,"m":10.0},
{"j":2451800,"m":10.1},{"j":2451860,"m":10.1},{"j":2451950,"m":10.1},{"j":2452120,"m":10.1},{"j":2452155,"m":10.1},{"j":2452290,"m":10.1},{"j":2452755,"m":10.1},
{"j":2451800,"m":10.2},{"j":2451850,"m":10.2},{"j":2451900,"m":10.2},{"j":2451950,"m":10.2},{"j":2451995,"m":10.2},{"j":2452029,"m":10.2},{"j":2452129,"m":10.2},{"j":2452190,"m":10.2},{"j":2452250,"m":10.2},{"j":2452311,"m":10.2},{"j":2452755,"m":10.2},{"j":2452800,"m":10.2},{"j":2452840,"m":10.2},
{"j":2451800,"m":10.3},{"j":2451850,"m":10.3},{"j":2451905,"m":10.3},{"j":2451960,"m":10.3},{"j":2452010,"m":10.3},{"j":2452060,"m":10.3},{"j":2452143,"m":10.3},{"j":2452198,"m":10.3},{"j":2452254,"m":10.3},{"j":2452310,"m":10.3},{"j":2452364,"m":10.3},{"j":2452720,"m":10.3},{"j":2452775,"m":10.3},{"j":2452825,"m":10.3},
{"j":2451800,"m":10.4},{"j":2451850,"m":10.4},{"j":2451900,"m":10.4},{"j":2451950,"m":10.4},{"j":2452020,"m":10.4},{"j":2452103,"m":10.4},{"j":2452160,"m":10.4},{"j":2452218,"m":10.4},{"j":2452275,"m":10.4},{"j":2452333,"m":10.4},{"j":2452390,"m":10.4},{"j":2452720,"m":10.4},{"j":2452770,"m":10.4},{"j":2452810,"m":10.4},
{"j":2451800,"m":10.5},{"j":2451845,"m":10.5},{"j":2451890,"m":10.5},{"j":2451935,"m":10.5},{"j":2451980,"m":10.5},{"j":2452025,"m":10.5},{"j":2452070,"m":10.5},{"j":2452115,"m":10.5},{"j":2452160,"m":10.5},{"j":2452205,"m":10.5},{"j":2452250,"m":10.5},{"j":2452295,"m":10.5},{"j":2452340,"m":10.5},{"j":2452380,"m":10.5},{"j":2452464,"m":10.5},{"j":2452564,"m":10.5},{"j":2452620,"m":10.5},{"j":2452677,"m":10.5},{"j":2452733,"m":10.5},{"j":2452846,"m":10.5},
{"j":2451800,"m":10.6},{"j":2451850,"m":10.6},{"j":2451900,"m":10.6},{"j":2451950,"m":10.6},{"j":2452000,"m":10.6},{"j":2452050,"m":10.6},{"j":2452103,"m":10.6},{"j":2452165,"m":10.6},{"j":2452227,"m":10.6},{"j":2452290,"m":10.6},{"j":2452351,"m":10.6},{"j":2452540,"m":10.6},{"j":2452630,"m":10.6},{"j":2452680,"m":10.6},{"j":2452730,"m":10.6},{"j":2452770,"m":10.6},
{"j":2451800,"m":10.7},{"j":2451850,"m":10.7},{"j":2451900,"m":10.7},{"j":2451950,"m":10.7},{"j":2452000,"m":10.7},{"j":2452050,"m":10.7},{"j":2452116,"m":10.7},{"j":2452165,"m":10.7},{"j":2452213,"m":10.7},{"j":2452262,"m":10.7},{"j":2452310,"m":10.7},{"j":2452359,"m":10.7},{"j":2452407,"m":10.7},{"j":2452456,"m":10.7},{"j":2452560,"m":10.7},{"j":2452610,"m":10.7},{"j":2452655,"m":10.7},{"j":2452710,"m":10.7},{"j":2452760,"m":10.7},{"j":2452810,"m":10.7},
{"j":2451800,"m":10.8},{"j":2451850,"m":10.8},{"j":2451900,"m":10.8},{"j":2451950,"m":10.8},{"j":2451995,"m":10.8},{"j":2452116,"m":10.8},{"j":2452166,"m":10.8},{"j":2452217,"m":10.8},{"j":2452267,"m":10.8},{"j":2452318,"m":10.8},{"j":2452368,"m":10.8},{"j":2452419,"m":10.8},{"j":2452469,"m":10.8},{"j":2452538,"m":10.8},{"j":2452585,"m":10.8},{"j":2452632,"m":10.8},{"j":2452678,"m":10.8},{"j":2452725,"m":10.8},{"j":2452772,"m":10.8},
{"j":2451800,"m":10.9},{"j":2451850,"m":10.9},{"j":2451900,"m":10.9},{"j":2451950,"m":10.9},{"j":2452010,"m":10.9},{"j":2452116,"m":10.9},{"j":2452166,"m":10.9},{"j":2452217,"m":10.9},{"j":2452267,"m":10.9},{"j":2452318,"m":10.9},{"j":2452368,"m":10.9},{"j":2452419,"m":10.9},{"j":2452469,"m":10.9},{"j":2452520,"m":10.9},{"j":2452570,"m":10.9},{"j":2452620,"m":10.9},{"j":2452670,"m":10.9},{"j":2452720,"m":10.9},
{"j":2451800,"m":11.0},{"j":2451840,"m":11.0},{"j":2451877,"m":11.0},{"j":2451945,"m":11.0},{"j":2451985,"m":11.0},{"j":2452021,"m":11.0},{"j":2452195,"m":11.0},{"j":2452245,"m":11.0},{"j":2452296,"m":11.0},{"j":2452346,"m":11.0},{"j":2452397,"m":11.0},{"j":2452447,"m":11.0},{"j":2452498,"m":11.0},{"j":2452548,"m":11.0},{"j":2452656,"m":11.0},{"j":2452690,"m":11.0},{"j":2452720,"m":11.0},
{"j":2451790,"m":11.1},{"j":2451950,"m":11.1},{"j":2452036,"m":11.1},{"j":2452195,"m":11.1},{"j":2452250,"m":11.1},{"j":2452300,"m":11.1},{"j":2452365,"m":11.1},{"j":2452446,"m":11.1},{"j":2452500,"m":11.1},{"j":2452555,"m":11.1},{"j":2452610,"m":11.1},{"j":2452665,"m":11.1},{"j":2452720,"m":11.1},
{"j":2452253,"m":11.2},{"j":2452472,"m":11.2},{"j":2452530,"m":11.2},{"j":2452590,"m":11.2},{"j":2452650,"m":11.2},{"j":2452706,"m":11.2},
{"j":2452227,"m":11.3},{"j":2452498,"m":11.3},{"j":2452555,"m":11.3},{"j":2452615,"m":11.3},{"j":2452672,"m":11.3},
{"j":2452480,"m":11.4},{"j":2452540,"m":11.4},{"j":2452600,"m":11.4},{"j":2452660,"m":11.4},
{"j":2452498,"m":11.5},{"j":2452550,"m":11.5},{"j":2452600,"m":11.5},{"j":2452650,"m":11.5},
{"j":2452510,"m":11.6},{"j":2452560,"m":11.6},{"j":2452610,"m":11.6},
{"j":2452530,"m":11.7},{"j":2452580,"m":11.7},{"j":2452620,"m":11.7},
{"j":2452530,"m":11.8},{"j":2452477,"m":11.9},{"j":2452543,"m":11.9}
]},
"layer":[
{"mark":{"type":"point","shape":"M-1,-0.62H1V0.62H-1Z","filled":true,"color":"#000","size":42,"opacity":1,"strokeWidth":0},
 "encoding":{
  "x":{"field":"j","type":"quantitative","scale":{"domain":[2446854,2452941],"nice":false,"zero":false},
   "axis":{"orient":"bottom","values":[2447000,2448000,2449000,2450000,2451000,2452000],"format":"d","labelExpr":"datum.value % 2000 === 0 ? datum.label : ''","tickSize":-15,"labelPadding":51,"labelBaseline":"alphabetic","labelFlush":false,"labelOverlap":false,"title":"Julian Date","titleX":400,"titleY":66,"titleBaseline":"alphabetic","titleAnchor":"middle"}},
  "y":{"field":"m","type":"quantitative","scale":{"domain":[7.772,13.735],"reverse":true,"nice":false,"zero":false},
   "axis":{"orient":"left","values":[8,9,10,11,12,13],"format":"d","tickSize":-14,"labelPadding":29,"labelBaseline":"middle","labelFlush":false,"labelOverlap":false,"title":"Magnitude","titleX":-56,"titleY":227,"titleAngle":-90,"titleBaseline":"alphabetic","titleAlign":"center"}}
 }},
{"data":{"values":[{"j":2450000,"m":10}]},
 "mark":{"type":"point","opacity":0},
 "encoding":{
  "x":{"field":"j","type":"quantitative","axis":{"orient":"bottom","values":[2447200,2447400,2447600,2447800,2448200,2448400,2448600,2448800,2449200,2449400,2449600,2449800,2450200,2450400,2450600,2450800,2451200,2451400,2451600,2451800,2452200,2452400,2452600,2452800],"labels":false,"tickSize":-8,"title":null}},
  "y":{"field":"m","type":"quantitative","axis":{"orient":"left","values":[7.8,8.2,8.4,8.6,8.8,9.2,9.4,9.6,9.8,10.2,10.4,10.6,10.8,11.2,11.4,11.6,11.8,12.2,12.4,12.6,12.8,13.2,13.4,13.6],"labels":false,"tickSize":-9,"title":null}}
 }},
{"data":{"values":[{"j":2450000,"m":10}]},
 "mark":{"type":"point","opacity":0},
 "encoding":{
  "x":{"field":"j","type":"quantitative","axis":{"orient":"top","values":[2447000,2448000,2449000,2450000,2451000,2452000],"labels":false,"tickSize":-15,"title":null}},
  "y":{"field":"m","type":"quantitative","axis":{"orient":"right","values":[8,9,10,11,12,13],"labels":false,"tickSize":-14,"title":null}}
 }},
{"data":{"values":[{"j":2450000,"m":10}]},
 "mark":{"type":"point","opacity":0},
 "encoding":{
  "x":{"field":"j","type":"quantitative","axis":{"orient":"top","values":[2447200,2447400,2447600,2447800,2448200,2448400,2448600,2448800,2449200,2449400,2449600,2449800,2450200,2450400,2450600,2450800,2451200,2451400,2451600,2451800,2452200,2452400,2452600,2452800],"labels":false,"tickSize":-8,"title":null}},
  "y":{"field":"m","type":"quantitative","axis":{"orient":"right","values":[7.8,8.2,8.4,8.6,8.8,9.2,9.4,9.6,9.8,10.2,10.4,10.6,10.8,11.2,11.4,11.6,11.8,12.2,12.4,12.6,12.8,13.2,13.4,13.6],"labels":false,"tickSize":-9,"title":null}}
 }}
],
"resolve":{"axis":{"x":"independent","y":"independent"}}
}
